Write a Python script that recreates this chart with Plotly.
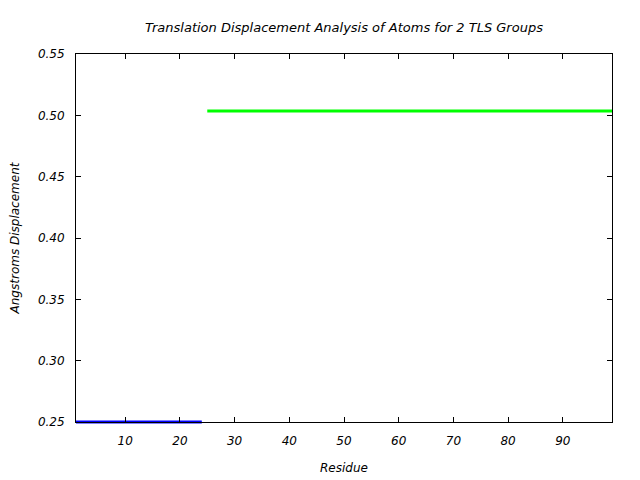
import plotly.graph_objects as go

# Data
group1_residues = list(range(1, 25))
group1_values = [0.25] * len(group1_residues)
group2_residues = list(range(25, 100))
group2_values = [0.5035] * len(group2_residues)

x_ticks = [10, 20, 30, 40, 50, 60, 70, 80, 90]
y_ticks = [0.25, 0.30, 0.35, 0.40, 0.45, 0.50, 0.55]

title_text = "Translation Displacement Analysis of Atoms for 2 TLS Groups"
x_title = "Residue"
y_title = "Angstroms Displacement"

FONT = dict(family="DejaVu Sans", size=12, color="black", style="italic")
TFONT = dict(family="DejaVu Sans", size=13, color="black", style="italic")

# page body has an 8px margin, so the figure is drawn 8px in from the corner
OFF = 8
W, H = 640 - OFF, 480 - OFF
pad = 4  # px extra below frame so the bottom line is not clipped
ML, MR, MT, MB = 76 - OFF, 28, 54 - OFF, 58 - pad
plot_h = H - MT - MB
y_lo, y_hi = 0.25, 0.55
px_per_unit = (plot_h - pad) / (y_hi - y_lo)

fig = go.Figure()

# data traces on a slightly taller (invisible) subplot
fig.add_trace(go.Scatter(x=group1_residues, y=group1_values, mode="lines",
                         line=dict(color="#0000ff", width=3),
                         showlegend=False, xaxis="x", yaxis="y"))
fig.add_trace(go.Scatter(x=group2_residues, y=group2_values, mode="lines",
                         line=dict(color="#00ff00", width=3),
                         showlegend=False, xaxis="x", yaxis="y"))

# invisible trace on frame axes (drawn later, so frame sits on top)
fig.add_trace(go.Scatter(x=[1, 99], y=[y_lo, y_hi], mode="markers",
                         marker=dict(opacity=0), hoverinfo="skip",
                         showlegend=False, xaxis="x2", yaxis="y2"))

fig.update_layout(
    width=W, height=H,
    margin=dict(l=ML, r=MR, t=MT, b=MB),
    paper_bgcolor="white", plot_bgcolor="rgba(0,0,0,0)",
    font=FONT,
    title=dict(text=title_text, x=0.5, xref="paper", xanchor="center",
               y=1 - (27 - OFF) / H, yanchor="middle", yref="container",
               font=TFONT, automargin=False),
    xaxis=dict(range=[1, 99], domain=[0, 1], anchor="y", visible=False),
    yaxis=dict(range=[y_lo - pad / px_per_unit, y_hi], domain=[0, 1],
               anchor="x", visible=False),
    xaxis2=dict(range=[1, 99], domain=[0, 1], anchor="y2",
                tickmode="array", tickvals=x_ticks,
                ticks="inside", ticklen=5, tickcolor="black",
                showline=True, linecolor="black", linewidth=1, mirror="ticks",
                showgrid=False, zeroline=False, automargin=False,
                ticklabelstandoff=8,
                title=dict(text=x_title, font=FONT, standoff=16),
                tickfont=FONT),
    yaxis2=dict(range=[y_lo, y_hi], domain=[pad / plot_h, 1], anchor="x2",
                tickmode="array", tickvals=y_ticks, tickformat=".2f",
                ticks="inside", ticklen=5, tickcolor="black",
                showline=True, linecolor="black", linewidth=1, mirror="ticks",
                showgrid=False, zeroline=False, automargin=False,
                ticklabelstandoff=8,
                title=dict(text=y_title, font=FONT, standoff=16),
                tickfont=FONT),
)

fig.write_html("out.html")
